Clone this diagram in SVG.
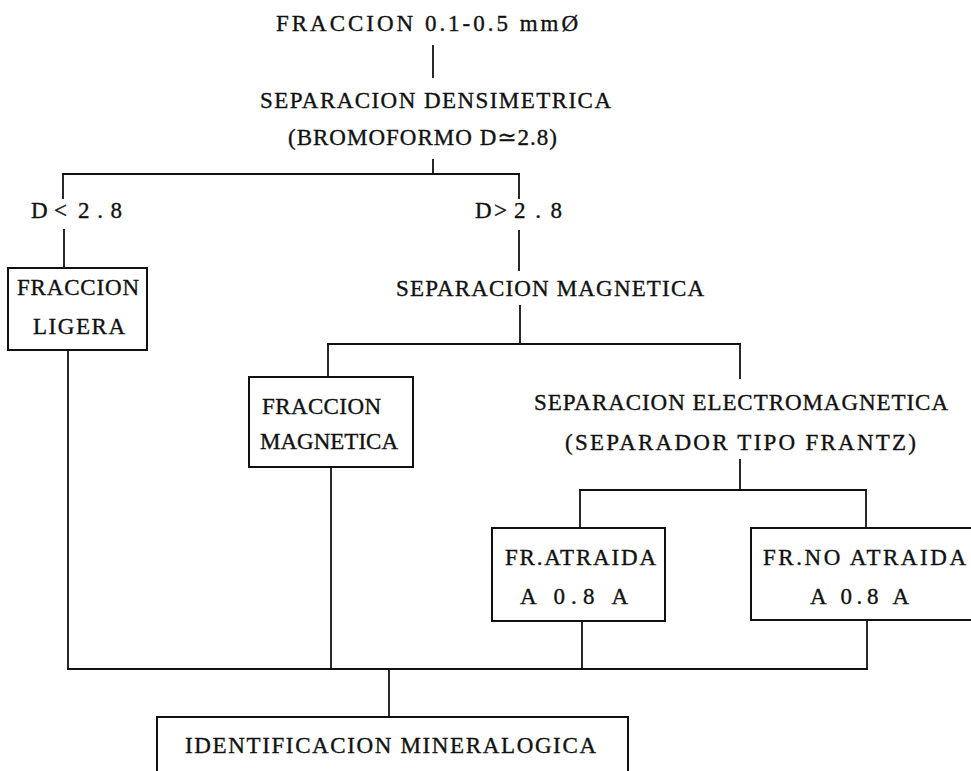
<svg xmlns="http://www.w3.org/2000/svg" width="971" height="771" viewBox="0 0 971 771">
<style>
  .t { font-family: "Liberation Serif", "DejaVu Serif", serif; font-size: 23px; fill: #111; stroke: #111; stroke-width: 0.35; }
  .ln { stroke: #111; stroke-width: 1.8; fill: none; stroke-linecap: square; }
  .bx { stroke: #111; stroke-width: 2; fill: #fff; }
</style>
<rect x="0" y="0" width="971" height="771" fill="#fff"/>
<g id="connectors" class="ln">
  <line x1="433" y1="46" x2="433" y2="77"/>
  <line x1="433" y1="160" x2="433" y2="174"/>
  <line x1="63" y1="174" x2="519" y2="174"/>
  <line x1="63" y1="174" x2="63" y2="198"/>
  <line x1="519" y1="174" x2="519" y2="198"/>
  <line x1="64" y1="230" x2="64" y2="268"/>
  <line x1="519" y1="231" x2="519" y2="270"/>
  <line x1="520" y1="306" x2="520" y2="344"/>
  <line x1="328" y1="344" x2="740" y2="344"/>
  <line x1="328" y1="344" x2="328" y2="377"/>
  <line x1="740" y1="344" x2="740" y2="378"/>
  <line x1="740" y1="460" x2="740" y2="490"/>
  <line x1="580" y1="490" x2="866" y2="490"/>
  <line x1="580" y1="490" x2="580" y2="528"/>
  <line x1="866" y1="490" x2="866" y2="528"/>
  <line x1="68" y1="350" x2="68" y2="669"/>
  <line x1="331" y1="467" x2="331" y2="669"/>
  <line x1="582" y1="621" x2="582" y2="669"/>
  <line x1="867" y1="620" x2="867" y2="669"/>
  <line x1="68" y1="669" x2="867" y2="669"/>
  <line x1="389" y1="669" x2="389" y2="717"/>
</g>
<g id="n-fraccion">
  <text class="t" x="276" y="31" textLength="302" lengthAdjust="spacing">FRACCION 0.1-0.5 mmØ</text>
</g>
<g id="n-sep-dens">
  <text class="t" x="260" y="108" textLength="351" lengthAdjust="spacing">SEPARACION DENSIMETRICA</text>
  <text class="t" x="288" y="145" textLength="269" lengthAdjust="spacing">(BROMOFORMO D≃2.8)</text>
</g>
<g id="n-dlt">
  <text class="t" x="31" y="218">D<tspan x="54">&lt;</tspan><tspan x="78" textLength="44" lengthAdjust="spacing">2.8</tspan></text>
</g>
<g id="n-dgt">
  <text class="t" x="475" y="218">D<tspan x="494">&gt;</tspan><tspan x="514" textLength="48" lengthAdjust="spacing">2.8</tspan></text>
</g>
<g id="n-ligera">
  <rect class="bx" x="8" y="268" width="139" height="82"/>
  <text class="t" x="17" y="295" textLength="122" lengthAdjust="spacing">FRACCION</text>
  <text class="t" x="33" y="334" textLength="92" lengthAdjust="spacing">LIGERA</text>
</g>
<g id="n-sep-mag">
  <text class="t" x="396" y="296" textLength="308" lengthAdjust="spacing">SEPARACION MAGNETICA</text>
</g>
<g id="n-magnetica">
  <rect class="bx" x="249" y="377" width="164" height="90"/>
  <text class="t" x="262" y="414" textLength="119" lengthAdjust="spacing">FRACCION</text>
  <text class="t" x="260" y="449" textLength="138" lengthAdjust="spacing">MAGNETICA</text>
</g>
<g id="n-sep-electro">
  <text class="t" x="534" y="410" textLength="414" lengthAdjust="spacing">SEPARACION ELECTROMAGNETICA</text>
  <text class="t" x="565" y="450" textLength="351" lengthAdjust="spacing">(SEPARADOR TIPO FRANTZ)</text>
</g>
<g id="n-atraida">
  <rect class="bx" x="492" y="528" width="173" height="93"/>
  <text class="t" x="505" y="565" textLength="151" lengthAdjust="spacing">FR.ATRAIDA</text>
  <text class="t" x="520" y="604" textLength="108" lengthAdjust="spacing">A 0.8 A</text>
</g>
<g id="n-no-atraida">
  <rect class="bx" x="751" y="528" width="230" height="92"/>
  <text class="t" x="763" y="565" textLength="203" lengthAdjust="spacing">FR.NO ATRAIDA</text>
  <text class="t" x="810" y="604" textLength="99" lengthAdjust="spacing">A 0.8 A</text>
</g>
<g id="n-identificacion">
  <rect class="bx" x="157" y="717" width="471" height="70"/>
  <text class="t" x="185" y="753" textLength="411" lengthAdjust="spacing">IDENTIFICACION MINERALOGICA</text>
</g>
</svg>
